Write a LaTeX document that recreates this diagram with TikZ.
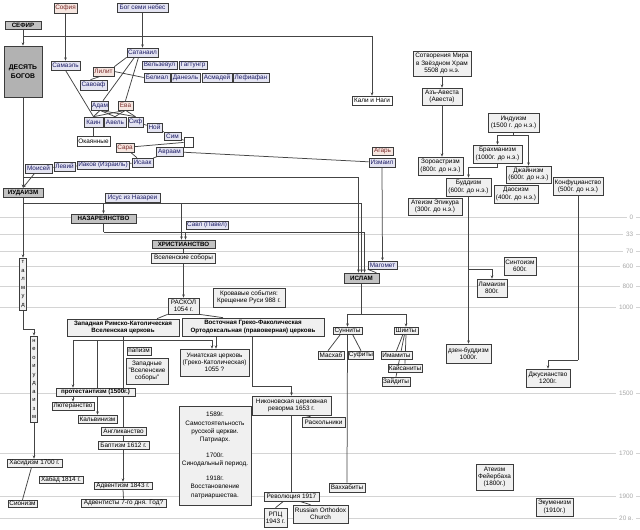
\documentclass[tikz,border=0pt]{standalone}
\usepackage{fontspec}
\setmainfont{Liberation Sans}
\usetikzlibrary{arrows.meta}
\pgfdeclarelayer{bg}
\pgfsetlayers{bg,main}
\definecolor{namefill}{HTML}{E4E4F2}
\definecolor{nametext}{HTML}{1C1C66}
\definecolor{femfill}{HTML}{F6E6E0}
\definecolor{femtext}{HTML}{7A2A2A}
\definecolor{plainfill}{HTML}{F0F0F0}
\definecolor{catfill}{HTML}{C2C2C2}
\definecolor{darkfill}{HTML}{B2B2B2}
\definecolor{bordc}{HTML}{3C3C3C}
\definecolor{linec}{HTML}{444444}
\definecolor{tlc}{HTML}{D4D4D4}
\definecolor{tltext}{HTML}{A8A8A8}
\newcommand\myfs{\fontsize{6.4}{7.3}\selectfont}
\newcommand\myfsb{\fontsize{6.2}{7.3}\selectfont\bfseries}
\tikzset{
  box/.style={draw=bordc, line width=0.65pt, inner sep=0.4pt, align=center, font=\myfs, text=black},
  nm/.style={box, fill=namefill, text=nametext},
  fm/.style={box, fill=femfill, text=femtext},
  pl/.style={box, fill=plainfill},
  wt/.style={box, fill=white},
  cat/.style={box, fill=catfill, font=\myfsb},
  sz/.style 2 args={minimum width=#1pt, minimum height=#2pt},
  ln/.style={draw=linec, line width=0.75pt},
  ar/.style={ln, -{Stealth[length=3.2pt,width=2.6pt]}},
  tl/.style={draw=tlc, line width=0.7pt},
  tlab/.style={font=\myfs, text=tltext, inner sep=0.5pt, anchor=east}
}
\begin{document}
\begin{tikzpicture}[x=1pt,y=-1pt]
\useasboundingbox (0,0) rectangle (640,530);

% ---- biblical cluster ----
\node[cat,sz={36}{8}] (sefir) at (23,25) {СЕФИР};
\node[box,fill=darkfill,font=\fontsize{6.8}{9}\selectfont\bfseries,line width=0.8pt,sz={38}{51}] (desyat) at (23,71.5) {ДЕСЯТЬ\\БОГОВ};
\node[fm,sz={23}{10}] (sofia) at (65.5,8) {София};
\node[nm,sz={51}{9}] (bog7) at (142.5,7.5) {Бог семи небес};
\node[nm,sz={29}{9}] (samael) at (65.5,65.5) {Самаэль};
\node[nm,sz={31}{9}] (satanail) at (142.5,52.5) {Сатанаил};
\node[nm,sz={35}{8}] (velzevul) at (159.5,65) {Вельзевул};
\node[nm,sz={28}{8}] (gagtungr) at (193,65) {Гагтунгр};
\node[fm,sz={21}{9}] (lilit) at (103.5,71.5) {Лилит};
\node[nm,sz={26}{9}] (belial) at (157,77.5) {Белиал};
\node[nm,sz={29}{9}] (daneel) at (185.5,77.5) {Данеэль};
\node[nm,sz={30}{9}] (asmadei) at (217,77.5) {Асмадей};
\node[nm,sz={36}{9}] (lefiafan) at (251,77.5) {Лефиафан};
\node[nm,sz={27}{10}] (savoaf) at (93.5,85) {Савоаф};
\node[nm,sz={16}{9}] (adam) at (100,105.5) {Адам};
\node[fm,sz={15}{9}] (eva) at (125.5,105.5) {Ева};
\node[nm,sz={19}{10}] (kain) at (93.5,122) {Каин};
\node[nm,sz={22}{10}] (avel) at (115,122) {Авель};
\node[nm,sz={15}{10}] (sif) at (135.5,122) {Сиф};
\node[nm,sz={15}{9}] (noi) at (154.5,127.5) {Ной};
\node[nm,sz={17}{8}] (sim) at (172.5,136) {Сим};
\node[wt,sz={9}{10}] (blank) at (188.5,142) {};
\node[wt,sz={33}{10}] (okayan) at (93.5,141) {Окаянные};
\node[fm,sz={18}{9}] (sara) at (125,147.5) {Сара};
\node[nm,sz={27}{9}] (avraam) at (169.5,151.5) {Авраам};
\node[nm,sz={21}{9}] (isaak) at (142.5,162.5) {Исаак};
\node[nm,sz={52}{8}] (iakov) at (103,165) {Иаков (Израиль)};
\node[nm,sz={21}{9}] (leviy) at (64.5,166.5) {Левий};
\node[nm,sz={27}{9}] (moisey) at (38.5,168.5) {Моисей};
\node[fm,sz={21}{8}] (agar) at (382.5,151) {Агарь};
\node[nm,sz={26}{9}] (izmail) at (382,162.5) {Измаил};
\node[wt,sz={40}{9}] (kali) at (372,100.5) {Кали и Наги};

% ---- judaism / christianity ----
\node[cat,sz={40}{9}] (iudaizm) at (23,192.5) {ИУДАИЗМ};
\node[nm,sz={55}{9}] (isus) at (132.5,197.5) {Исус из Назареи};
\node[cat,sz={65}{9}] (nazar) at (103.5,218.5) {НАЗАРЕЯНСТВО};
\node[nm,sz={42}{8}] (savl) at (207,225) {Савл (Павел)};
\node[cat,sz={63}{8}] (hrist) at (183.5,244) {ХРИСТИАНСТВО};
\node[pl,sz={64}{10}] (sobory) at (183.5,258) {Вселенские соборы};
\node[pl,sz={7}{52},font=\fontsize{5.8}{8.6}\selectfont] (talmud) at (23,284) {т\\а\\л\\м\\у\\д};
\node[pl,sz={31}{16}] (raskol) at (183.5,306) {РАСКОЛ\\1054 г.};
\node[pl,sz={72}{19}] (krov) at (249,297.5) {Кровавые события:\\Крещение Руси 988 г.};
\node[pl,sz={112}{17},font=\myfsb] (zapad) at (123,327.5) {Западная Римско-Католическая\\Вселенская церковь};
\node[pl,sz={142}{18},font=\myfsb] (vostok) at (253,327) {Восточная Греко-Факолическая\\Ортодоксальная (правоверная) церковь};
\node[pl,sz={7}{86},font=\fontsize{5.8}{8.5}\selectfont] (neoiud) at (34,379) {н\\е\\о\\и\\у\\д\\а\\и\\з\\м};
\node[pl,sz={24}{8}] (papizm) at (139,351) {папизм};
\node[pl,sz={42}{26}] (zapsob) at (147,371) {Западные\\"Вселенские\\соборы"};
\node[pl,sz={69}{27}] (uniat) at (214.5,362.5) {Униатская церковь\\(Греко-Католическая)\\1055 ?};
\node[pl,sz={79}{8},font=\myfsb] (protest) at (95.5,392) {протестантизм (1500г.)};
\node[pl,sz={42}{8}] (luther) at (73,406) {Лютеранство};
\node[pl,sz={39}{8}] (kalvin) at (97.5,419) {Кальвинизм};
\node[pl,sz={45}{8}] (anglik) at (123.5,431) {Англиканство};
\node[pl,sz={51}{8}] (baptizm) at (123.5,445) {Баптизм 1612 г.};
\node[pl,sz={55}{8}] (hasid) at (34.5,463) {Хасидизм 1700 г.};
\node[pl,sz={44}{7}] (habad) at (61,479.5) {Хабад 1814 г.};
\node[pl,sz={29}{7}] (sionizm) at (22.5,503.5) {Сионизм};
\node[pl,sz={58}{7}] (advent) at (123,485.5) {Адвентизм 1843 г.};
\node[pl,sz={85}{8}] (advent7) at (123.5,503) {Адвентисты 7-го дня. Год?};
\node[pl,sz={72}{99},line width=0.9pt,font=\fontsize{6.4}{8.3}\selectfont] (big) at (215,455.5) {1589г.\\Самостоятельность\\русской церкви.\\Патриарх.\\[7pt]1700г.\\Синодальный период.\\[7pt]1918г.\\Восстановление\\патриаршества.};
\node[pl,sz={79}{19}] (nikon) at (291.5,405.5) {Никоновская церковная\\реворма 1653 г.};
\node[pl,sz={43}{10}] (raskolniki) at (323.5,422) {Раскольники};
\node[pl,sz={55}{9}] (revol) at (291.5,496.5) {Революция 1917};
\node[pl,sz={23}{19}] (rpc) at (275.5,517.5) {РПЦ\\1943 г.};
\node[pl,sz={55}{18}] (roc) at (320.5,514) {Russian Orthodox\\Church};

% ---- islam ----
\node[pl,sz={36}{9}] (vahhab) at (347,487.5) {Ваххабиты};
\node[nm,sz={29}{8}] (magomet) at (382.5,265) {Магомет};
\node[cat,sz={35}{10}] (islam) at (361.5,278) {ИСЛАМ};
\node[pl,sz={29}{7}] (sunnit) at (347.5,330.5) {Сунниты};
\node[pl,sz={24}{7}] (shiit) at (406,330.5) {Шииты};
\node[pl,sz={26}{8}] (mashab) at (331,355) {Масхаб};
\node[pl,sz={24}{8}] (sufit) at (361,355) {Суфиты};
\node[pl,sz={31}{8}] (imamit) at (396.5,355) {Имамиты};
\node[pl,sz={34}{8}] (kaisan) at (405,368) {Кайсаниты};
\node[pl,sz={28}{9}] (zaidit) at (396,381.5) {Зайдиты};

% ---- east ----
\node[pl,sz={58}{25}] (sotvor) at (442,63.5) {Сотворения Мира\\в Звёздном Храм\\5508 до н.э.};
\node[pl,sz={40}{17}] (azav) at (442,96.5) {Азъ-Авеста\\(Авеста)};
\node[pl,sz={45}{18}] (zoro) at (440.5,166) {Зороастризм\\(800г. до н.э.)};
\node[pl,sz={51}{19}] (indu) at (513.5,122.5) {Индуизм\\(1500 г. до н.э.)};
\node[pl,sz={49}{18}] (brahm) at (497.5,154) {Брахманизм\\(1000г. до н.э.)};
\node[pl,sz={45}{17}] (jain) at (528.5,174.5) {Джайнизм\\(600г. до н.э.)};
\node[pl,sz={45}{18}] (budd) at (468.5,187) {Буддизм\\(600г. до н.э.)};
\node[pl,sz={44}{18}] (daos) at (516,194) {Даосизм\\(400г. до н.э.)};
\node[pl,sz={54}{17}] (epikur) at (435,206.5) {Атеизм Эпикура\\(300г. до н.э.)};
\node[pl,sz={50}{18}] (konf) at (578,186) {Конфуцианство\\(500г. до н.э.)};
\node[pl,sz={45}{19}] (zen) at (468.5,353.5) {дзен-буддизм\\1000г.};
\node[pl,sz={30}{18}] (lama) at (492,288) {Ламаизм\\800г.};
\node[pl,sz={32}{18}] (sinto) at (520,266) {Синтоизм\\600г.};
\node[pl,sz={44}{18}] (jus) at (548,378) {Джусианство\\1200г.};
\node[pl,sz={37}{26}] (feuer) at (494.5,477) {Атеизм\\Фейербаха\\(1800г.)};
\node[pl,sz={37}{18}] (ekum) at (554.5,507) {Экуменизм\\(1910г.)};

\begin{pgfonlayer}{bg}
\fill[white] (0,0) rectangle (640,530);
% timeline
\foreach \yy/\lab in {217/0, 234/33, 251/70, 266/600, 286/800, 307/1000, 393/1500, 453/1700, 496/1900, 518/20 в.}{
  \node[tlab] (t\yy) at (634,\yy) {\lab};
  \draw[tl] (0,\yy) -- ([xshift=-2pt]t\yy.west);
  \draw[tl] (636,\yy) -- (640,\yy);
}
% top
\coordinate (j1) at (23,36);
\draw[ln] (sefir.south) -- (j1);
\draw[ar] (j1) -- (desyat.north);
\draw[ar] (j1) -| (kali.north);
\draw[ar] (desyat.south) -- (iudaizm.north);
\coordinate (j2) at (23,177);
\draw[ar] (j2) -| ([xshift=-3pt]islam.north);
\draw[ar] (moisey) -- (iudaizm.north);
\draw[ar] (sofia.south) -- (samael.north);
\draw[ar] (bog7.south) -- (satanail.north);
\draw[ln] (satanail.south west) -- (lilit.north east);
\draw[ln] ([xshift=-3pt]lilit.south) -- ([xshift=-3pt]savoaf.north);
\draw[ln] ([xshift=-8pt]satanail.south) -- ([xshift=3pt]adam.north);
\draw[ln] ([xshift=-4pt]satanail.south) -- (eva.north);
\draw[ln] (lilit.east) -- (belial.west);
\draw[ln] (samael.south) -- (kain.north);
\draw[ln] (adam.south) -- (kain.north);
\draw[ln] (adam.south) -- (avel.north);
\draw[ln] (adam.south) -- (sif.north);
\draw[ln] (eva.south) -- (kain.north);
\draw[ln] (eva.south) -- (avel.north);
\draw[ln] (eva.south) -- (sif.north);
\draw[ln] (kain) -- (okayan);
\draw[ln] (sif) -- (noi);
\draw[ln] (noi) -- (sim);
\draw[ln] (sim) -- (blank);
\draw[ln] (blank) -- (sara);
\draw[ln] (sara) -- (isaak);
\draw[ln] (avraam) -- (isaak);
\draw[ln] (avraam) -- (izmail);
\draw[ln] (isaak) -- (iakov);
\draw[ln] (iakov) -- (leviy);
\draw[ln] (leviy) -- (moisey);
% judaism / christianity
\coordinate (j3) at (23,203);
\draw[ar] (iudaizm.south) -- (talmud.north);
\draw[ar] (j3) -| (islam.north);
\draw[ar] (j3 -| nazar.north) -- (nazar.north);
\draw[ar] ([xshift=-2pt]hrist.north |- j3) -- ([xshift=-2pt]hrist.north);
\coordinate (j4) at (103.5,232);
\draw[ln] (nazar.south) -- (j4);
\draw[ar] (j4) -| ([xshift=3pt]islam.north);
\draw[ar] ([xshift=2pt]hrist.north |- j4) -- ([xshift=2pt]hrist.north);
\draw[ln] (hrist.south) -- (sobory.north);
\draw[ar] (sobory.south) -- (raskol.north);
\draw[ln] (raskol.south west) -- ([xshift=34pt]zapad.north);
\draw[ln] (raskol.south east) -- ([xshift=-30pt]vostok.north);
\coordinate (j6) at (123,340);
\coordinate (j6a) at (73,340);
\coordinate (j6b) at (212,340);
\draw[ln] (zapad.south) -- (j6);
\draw[ln] (j6a) -- (j6b);
\draw[ar] (j6a) -- (j6a |- protest.north);
\draw[ar] (j6 -| kalvin.north) -- (kalvin.north);
\draw[ar] (j6) -- (advent.north);
\draw[ar] (j6b) -- (j6b |- uniat.north);
\draw[ar] ([xshift=-37pt]vostok.south) -- ([xshift=1.5pt]uniat.north);
\draw[ar] (luther.north |- protest.south) -- (luther.north);
\draw[ln] (advent.south) -- (advent7.north);
\coordinate (j7) at (252,386);
\draw[ln] (vostok.south -| j7) -- (j7);
\draw[ar] (j7) -| (nikon.north);
\draw[ln] ([xshift=13pt]nikon.south) -- ([xshift=-13pt]raskolniki.north);
\draw[ln] (nikon.south) -- (revol.north);
\draw[ln] ([xshift=-8pt]revol.south) -- (rpc.north);
\draw[ln] ([xshift=8pt]revol.south) -- ([xshift=-10pt]roc.north);
\coordinate (j8) at (23,329);
\draw[ln] (talmud.south) -- (j8);
\draw[ar] (j8) -| (neoiud.north);
\draw[ar] (neoiud.south) -- (neoiud.south |- hasid.north);
\draw[ln] ([xshift=-3pt]hasid.south) -- (sionizm.north);
% islam
\draw[ar] (izmail.south) -- (magomet.north);
\draw[ln] (magomet.south west) -- ([xshift=-3pt]islam.north east);
\coordinate (j5) at (361.5,314);
\draw[ln] (islam.south) -- (j5);
\draw[ar] (j5) -| (sunnit.north);
\draw[ar] (j5) -| (shiit.north);
\draw[ln] ([xshift=-7pt]sunnit.south) -- ([xshift=-3pt]mashab.north);
\draw[ln] ([xshift=5pt]sunnit.south) -- (sufit.north);
\draw[ln] (sunnit.south) -- (vahhab.north);
\draw[ln] ([xshift=-3pt]shiit.south) -- (imamit.north);
\draw[ln] (shiit.south) -- (kaisan.north);
\draw[ln] ([xshift=-1.5pt]shiit.south) -- (zaidit.north);
% east
\draw[ar] (sotvor.south) -- (azav.north);
\draw[ar] (azav.south) -- (azav.south |- zoro.north);
\coordinate (j9) at (513.5,135);
\draw[ln] (indu.south) -- (j9);
\draw[ar] (j9) -| (brahm.north);
\draw[ar] (j9) -| (jain.north);
\coordinate (j10) at (497.5,167);
\draw[ln] (brahm.south) -- (j10);
\draw[ar] (j10) -| (budd.north);
\draw[ar] (budd.south) -- (zen.north);
\coordinate (j11) at (468.5,269);
\draw[ar] (j11) -| (lama.north);
\coordinate (j12) at (578,360);
\draw[ln] (konf.south) -- (j12);
\draw[ar] (j12) -| (jus.north);
\end{pgfonlayer}
\end{tikzpicture}
\end{document}
